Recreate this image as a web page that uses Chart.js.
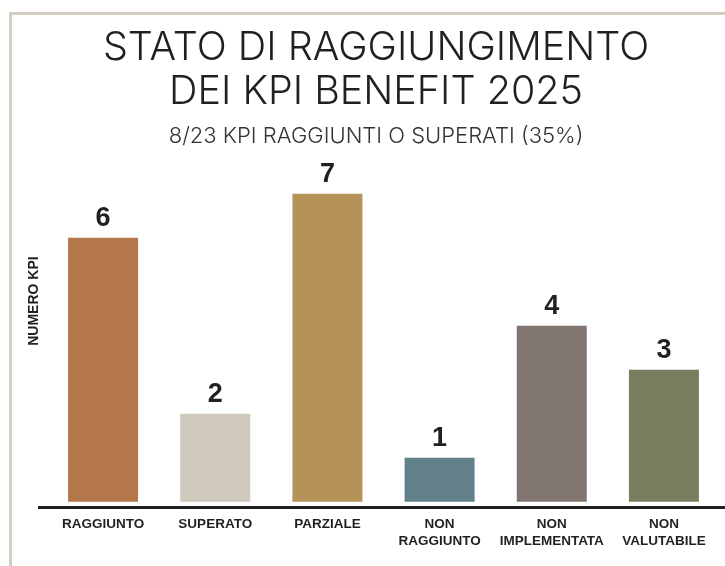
<!DOCTYPE html>
<html><head><meta charset="utf-8">
<script src="https://cdn.jsdelivr.net/npm/chart.js@4.4.0/dist/chart.umd.min.js"></script>
<style>
html,body{margin:0;padding:0;background:#fff;width:725px;height:566px;overflow:hidden;}
#frame{position:absolute;left:9px;top:12px;width:800px;height:700px;border-left:3px solid #d4cdc2;border-top:3px solid #d4cdc2;}
#wrap{position:absolute;left:0;top:0;width:725px;height:566px;}
</style></head><body>
<div id="frame"></div>
<div id="wrap"><canvas id="c"></canvas></div>
<script>
const titleLines = ['STATO DI RAGGIUNGIMENTO', 'DEI KPI BENEFIT 2025'];
const subtitleText = '8/23 KPI RAGGIUNTI O SUPERATI (35%)';
const yAxisTitle = 'NUMERO KPI';
const categories = [['RAGGIUNTO'], ['SUPERATO'], ['PARZIALE'], ['NON', 'RAGGIUNTO'], ['NON', 'IMPLEMENTATA'], ['NON', 'VALUTABILE']];
const kpiCounts = [6, 2, 7, 1, 4, 3];
const barColors = ['#b4764b', '#d0c9bd', '#b59257', '#61808a', '#81756f', '#777e5f'];

const ink = '#231f20';

const valueLabels = {
  id: 'valueLabels',
  afterDatasetsDraw(chart) {
    const ctx = chart.ctx;
    const meta = chart.getDatasetMeta(0);
    ctx.save();
    ctx.font = 'bold 27px "Liberation Sans", Arial, sans-serif';
    ctx.fillStyle = ink;
    ctx.textAlign = 'center';
    ctx.textBaseline = 'alphabetic';
    meta.data.forEach((bar, i) => {
      ctx.fillText(String(kpiCounts[i]), bar.x, bar.y - 12);
    });
    ctx.restore();
  }
};

const axisLine = {
  id: 'axisLine',
  afterDatasetsDraw(chart) {
    const ctx = chart.ctx;
    const a = chart.chartArea;
    ctx.save();
    ctx.strokeStyle = ink;
    ctx.lineWidth = 3;
    ctx.beginPath();
    ctx.moveTo(a.left - 9, a.bottom + 0.5);
    ctx.lineTo(chart.width, a.bottom + 0.5);
    ctx.stroke();
    ctx.restore();
  }
};

new Chart(document.getElementById('c'), {
  type: 'bar',
  data: {
    labels: categories,
    datasets: [{
      data: kpiCounts,
      backgroundColor: barColors,
      borderWidth: 0,
      barPercentage: 0.624,
      categoryPercentage: 1
    }]
  },
  options: {
    responsive: true,
    maintainAspectRatio: false,
    animation: false,
    events: [],
    layout: { padding: { left: 32, right: 5, top: 0, bottom: 7 } },
    plugins: {
      legend: { display: false },
      tooltip: { enabled: false },
      title: {
        display: true,
        text: titleLines,
        color: ink,
        font: { family: 'Inter', weight: 300, size: 39.5, lineHeight: 1.1 },
        padding: { top: 26.5, bottom: -18.4 }
      },
      subtitle: {
        display: true,
        text: subtitleText,
        color: '#333333',
        font: { family: 'Inter', weight: 300, size: 22, lineHeight: 1.2 },
        padding: { top: 27.8, bottom: -54.1 }
      }
    },
    scales: {
      x: {
        grid: { display: false, drawTicks: false },
        border: { display: false },
        ticks: {
          color: ink,
          padding: 9,
          maxRotation: 0,
          autoSkip: false,
          font: { family: '"Liberation Sans", Arial, sans-serif', weight: 'bold', size: 13.5, lineHeight: 1.26 }
        }
      },
      y: {
        min: -0.12,
        max: 9.244,
        grid: { display: false, drawTicks: false },
        border: { display: false },
        ticks: { display: false },
        title: {
          display: true,
          text: yAxisTitle,
          color: ink,
          font: { family: '"Liberation Sans", Arial, sans-serif', weight: 'bold', size: 14, lineHeight: 1.2 },
          padding: { top: -6.4, bottom: 4.6 }
        }
      }
    }
  },
  plugins: [valueLabels, axisLine]
});
</script>
</body></html>
